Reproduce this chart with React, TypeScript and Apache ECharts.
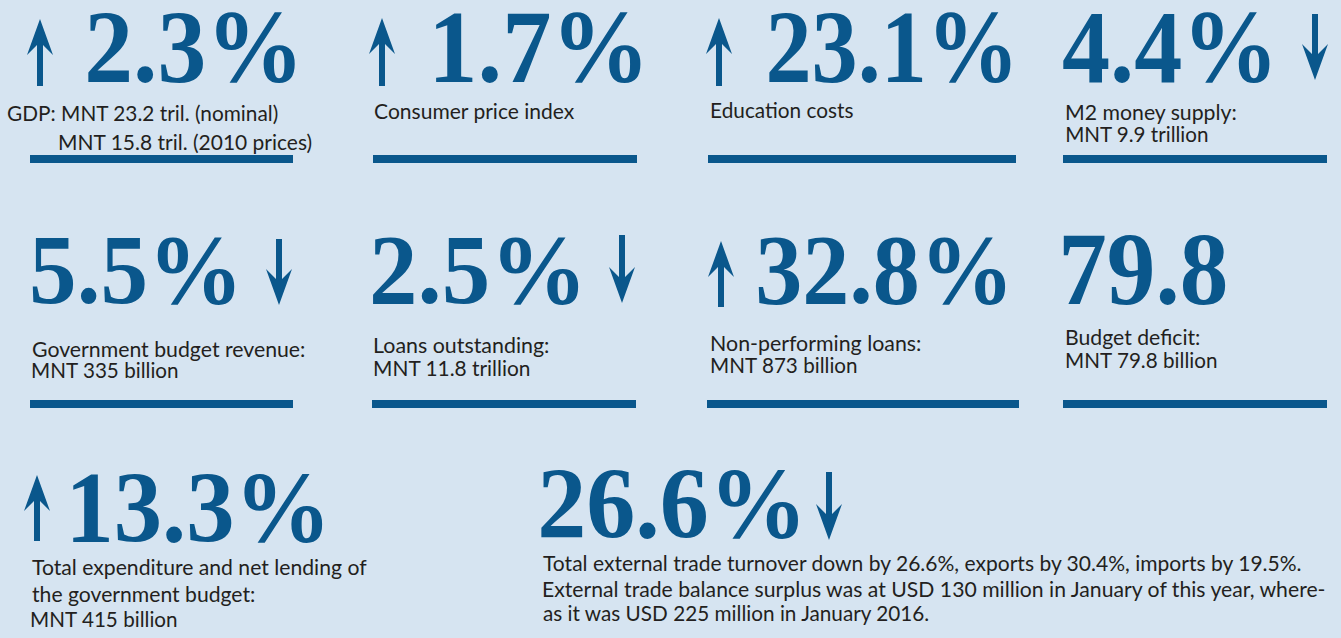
import React, { useEffect, useRef } from 'react';
import * as echarts from 'echarts';

// ---- content ----
const figures = ['2.3%', '1.7%', '23.1%', '4.4%', '5.5%', '2.5%', '32.8%', '79.8', '13.3%', '26.6%'];
const trends = ['up', 'up', 'up', 'down', 'down', 'down', 'up', 'none', 'up', 'down'];
const captions: string[][] = [
  ['GDP: MNT 23.2 tril. (nominal)', 'MNT 15.8 tril. (2010 prices)'],
  ['Consumer price index'],
  ['Education costs'],
  ['M2 money supply:', 'MNT 9.9 trillion'],
  ['Government budget revenue:', 'MNT 335 billion'],
  ['Loans outstanding:', 'MNT 11.8 trillion'],
  ['Non-performing loans:', 'MNT 873 billion'],
  ['Budget deficit:', 'MNT 79.8 billion'],
  ['Total expenditure and net lending of', 'the government budget:', 'MNT 415 billion'],
  [
    'Total external trade turnover down by 26.6%, exports by 30.4%, imports by 19.5%.',
    'External trade balance surplus was at USD 130 million in January of this year, where-',
    'as it was USD 225 million in January 2016.',
  ],
];

// ---- layout (positions / sizes only) ----
type Layout = {
  fx: number; fTop: number; fBase: number; fW: number;
  arrow: [number, number, number] | null;
  cx: number[]; cBase: number[]; cW: number[]; cFs: number;
  bar: [number, number, number] | null;
};
const layout: Layout[] = [
  { fx: 88, fTop: 13, fBase: 82, fW: 207, arrow: [40, 19, 86], cx: [8, 60], cBase: [121, 150], cW: [270, 252], cFs: 22, bar: [30, 293, 155] },
  { fx: 436, fTop: 14, fBase: 82, fW: 205, arrow: [382, 18, 86], cx: [375], cBase: [119], cW: [200], cFs: 22, bar: [373, 637, 155] },
  { fx: 769, fTop: 14, fBase: 82, fW: 242, arrow: [719, 18, 86], cx: [712], cBase: [118], cW: [141], cFs: 22, bar: [708, 1016, 155] },
  { fx: 1063, fTop: 14, fBase: 82, fW: 207, arrow: [1315, 14, 80], cx: [1067, 1067], cBase: [120, 142], cW: [170, 141], cFs: 22, bar: [1063, 1327, 155] },
  { fx: 32, fTop: 238, fBase: 303, fW: 203, arrow: [279, 239, 305], cx: [33, 33], cBase: [357, 378], cW: [272, 145], cFs: 22, bar: [30, 293, 400] },
  { fx: 373, fTop: 238, fBase: 303, fW: 206, arrow: [622, 235, 303], cx: [375, 375], cBase: [353, 376], cW: [174, 155], cFs: 22, bar: [372, 636, 400] },
  { fx: 758, fTop: 238, fBase: 303, fW: 248, arrow: [721, 241, 307], cx: [712, 712], cBase: [351, 373], cW: [209, 145], cFs: 22, bar: [707, 1019, 400] },
  { fx: 1063, fTop: 237, fBase: 305, fW: 163, arrow: null, cx: [1067, 1067], cBase: [345, 368], cW: [133, 150], cFs: 22, bar: [1063, 1327, 400] },
  { fx: 73, fTop: 475, fBase: 542, fW: 249, arrow: [37, 475, 541], cx: [32, 32, 32], cBase: [575, 602, 627], cW: [335, 223, 145], cFs: 22, bar: null },
  { fx: 541, fTop: 471, fBase: 538, fW: 257, arrow: [829, 472, 540], cx: [543, 543, 543], cBase: [571, 597, 621], cW: [760, 785, 387], cFs: 21, bar: null },
];

const BG = '#d6e4f1';
const BLUE = '#0a578c';
const INK = '#231f20';
const SERIF = '"Liberation Serif", "Times New Roman", serif';
const SANS = 'Lato, "Open Sans", sans-serif';

function arrowPoints(dir: string, cx: number, top: number, bottom: number): number[][] {
  const w = 13, h = 36, notch = 10, s = 3;
  if (dir === 'up') {
    return [
      [cx, top], [cx + w, top + h], [cx + s, top + h - notch], [cx + s, bottom],
      [cx - s, bottom], [cx - s, top + h - notch], [cx - w, top + h],
    ];
  }
  return [
    [cx, bottom], [cx + w, bottom - h], [cx + s, bottom - h + notch], [cx + s, top],
    [cx - s, top], [cx - s, bottom - h + notch], [cx - w, bottom - h],
  ];
}

export default function App() {
  const ref = useRef<HTMLDivElement>(null);
  useEffect(() => {
    document.body.style.margin = '0';
    const chart = echarts.init(ref.current!, null, { renderer: 'svg' });
    const cv = document.createElement('canvas');
    const ctx = cv.getContext('2d')!;
    const measure = (font: string, text: string) => {
      ctx.font = font;
      ctx.textBaseline = 'alphabetic';
      ctx.textAlign = 'left';
      return ctx.measureText(text);
    };
    const elements: any[] = [];
    const probe = measure(`bold 100px ${SERIF}`, '2');
    const digitH = probe.actualBoundingBoxAscent || 67.6;

    figures.forEach((fig, i) => {
      const L = layout[i];
      const fs = (100 * (L.fBase - L.fTop)) / digitH;
      const font = `bold ${fs.toFixed(2)}px ${SERIF}`;
      const m = measure(font, fig);
      const inkL = m.actualBoundingBoxLeft ?? 0;
      const ink = (m.actualBoundingBoxRight ?? m.width) + inkL;
      const sx = L.fW / ink;
      const asc = (m as any).fontBoundingBoxAscent ?? 0.891 * fs;
      const desc = (m as any).fontBoundingBoxDescent ?? 0.216 * fs;
      elements.push({
        type: 'text',
        x: L.fx + inkL * sx,
        y: L.fBase - (asc - desc) / 2,
        scaleX: sx,
        style: {
          text: fig, font, fill: BLUE,
          align: 'left', verticalAlign: 'middle', textAlign: 'left', textVerticalAlign: 'middle',
        },
      });

      if (L.arrow && trends[i] !== 'none') {
        const [ax, at, ab] = L.arrow;
        elements.push({
          type: 'polygon',
          shape: { points: arrowPoints(trends[i], ax, at, ab) },
          style: { fill: BLUE },
        });
      }

      captions[i].forEach((line, j) => {
        const cfont = `${L.cFs}px ${SANS}`;
        const cm = measure(cfont, line);
        const cl = cm.actualBoundingBoxLeft ?? 0;
        const cink = (cm.actualBoundingBoxRight ?? cm.width) + cl;
        const csx = L.cW[j] / cink;
        const casc = (cm as any).fontBoundingBoxAscent ?? 0.987 * L.cFs;
        const cdesc = (cm as any).fontBoundingBoxDescent ?? 0.213 * L.cFs;
        elements.push({
          type: 'text',
          x: L.cx[j] + cl * csx,
          y: L.cBase[j] - (casc - cdesc) / 2,
          scaleX: csx,
          style: {
            text: line, font: cfont, fill: INK,
            align: 'left', verticalAlign: 'middle', textAlign: 'left', textVerticalAlign: 'middle',
          },
        });
      });

      if (L.bar) {
        const [x1, x2, y] = L.bar;
        elements.push({
          type: 'rect',
          shape: { x: x1, y, width: x2 - x1, height: 8 },
          style: { fill: BLUE },
        });
      }
    });

    chart.setOption({
      animation: false,
      backgroundColor: BG,
      graphic: { elements },
    });
    return () => chart.dispose();
  }, []);
  return <div ref={ref} style={{ width: 1341, height: 638 }} />;
}
